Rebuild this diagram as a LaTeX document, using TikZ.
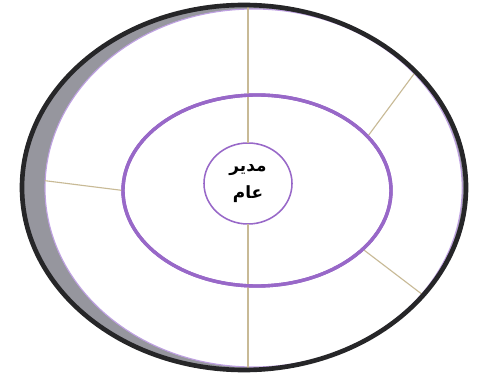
\documentclass[tikz,border=0pt]{standalone}
\usepackage{fontspec}
\usepackage{tikz}
\usetikzlibrary{
    positioning,
    calc,
    shapes.geometric
}
\TeXXeTstate=1
\newfontfamily\arabicfont[Script=Arabic]{DejaVu Sans}

\definecolor{ringpurple}{RGB}{152,104,200}
\definecolor{edgepurple}{RGB}{190,160,225}
\definecolor{spoketan}{RGB}{200,186,150}
\definecolor{rimgray}{RGB}{150,150,158}
\definecolor{rimblack}{RGB}{38,38,40}

\tikzset{
    % --- Outer rim (dark ellipse with grey fill) ---
    rim/.style = {
        ellipse, draw=rimblack, line width=3.3pt,
        inner sep=0pt, outer sep=0pt
    },
    % --- White face inside the rim ---
    face/.style = {
        ellipse, draw=edgepurple, fill=white, line width=0.8pt,
        inner sep=0pt, outer sep=0pt
    },
    % --- Purple ring ---
    ring/.style = {
        ellipse, draw=ringpurple, line width=2.4pt,
        inner sep=0pt, outer sep=0pt
    },
    % --- Centre circle with title ---
    hub/.style = {
        ellipse, draw=ringpurple, fill=white, line width=1.1pt,
        inner sep=0pt, outer sep=0pt, align=center,
        font=\arabicfont\bfseries\fontsize{12}{19}\selectfont
    },
    % --- Divider lines ---
    spoke/.style = {
        draw=spoketan, line width=0.8pt
    }
}

\begin{document}
\begin{tikzpicture}

\useasboundingbox (0,0) rectangle (11.95,9.525);

% ---------------------------------------------------------
% Rim and face
% ---------------------------------------------------------
\node[rim, fill=rimgray, draw=none, minimum width=11.1cm, minimum height=9.125cm]
    (outer) at (6.10, 4.8375) {};
\node[face, minimum width=10.43cm, minimum height=8.95cm]
    (inner) at (6.34, 4.825) {};

% ---------------------------------------------------------
% Ring and hub
% ---------------------------------------------------------
\node[ring, minimum width=6.7cm, minimum height=4.775cm]
    (mid) at (6.425, 4.7625) {};
\node[hub, minimum width=2.2cm, minimum height=2.025cm]
    (hub) at (6.2, 4.9375) {\beginR مدير\endR\\\beginR عام\endR};

% ---------------------------------------------------------
% Spokes
% ---------------------------------------------------------
\draw[spoke] (hub.north) -- (hub.north |- outer.north);
\draw[spoke] (hub.south) -- (hub.south |- outer.south);
\draw[spoke] (inner.178.5) -- (mid.west);
\draw[spoke] (mid.26) -- (outer.34);
\draw[spoke] (mid.331) -- (outer.329);

% redraw ring on top of the spokes
\node[ring, minimum width=6.7cm, minimum height=4.775cm] at (mid) {};

% ---------------------------------------------------------
% Dark rim outline
% ---------------------------------------------------------
\node[rim, minimum width=11.1cm, minimum height=9.125cm] at (outer) {};

\end{tikzpicture}
\end{document}
